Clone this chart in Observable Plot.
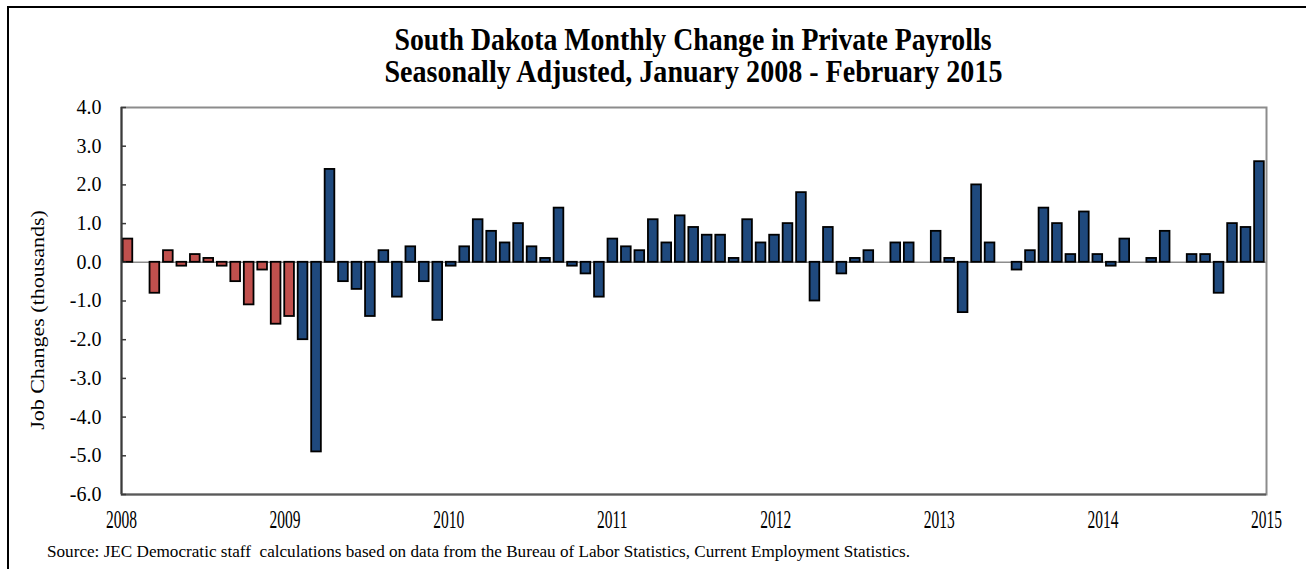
<!DOCTYPE html>
<html>
<head>
<meta charset="utf-8">
<script src="https://cdn.jsdelivr.net/npm/d3@7"></script>
<script src="https://cdn.jsdelivr.net/npm/@observablehq/plot@0.6"></script>
<style>
  html, body { margin: 0; padding: 0; background: #fff; }
  #page { position: relative; width: 1306px; height: 569px; overflow: hidden; font-family: "Liberation Serif", serif; color: #000; }
  #border { position: absolute; left: 7px; top: 6px; width: 1400px; height: 700px; border: 2px solid #000; box-sizing: border-box; }
  #title { position: absolute; left: 0; top: 24px; width: 1386px; text-align: center; font-weight: bold; font-size: 31px; line-height: 32px; }
  #title span { display: inline-block; white-space: pre; transform-origin: center center; }
  #chart { position: absolute; left: 0; top: 98px; }
  #source { position: absolute; left: 47px; top: 542px; font-size: 17px; line-height: 20px; white-space: pre; transform-origin: left center; display: inline-block; }
</style>
</head>
<body>
<div id="page">
  <div id="border"></div>
  <div id="title"><div><span id="t1"></span></div><div><span id="t2"></span></div></div>
  <div id="chart"></div>
  <span id="source"></span>
</div>
<script>
// ---- data ----
const titleLine1 = "South Dakota Monthly Change in Private Payrolls";
const titleLine2 = "Seasonally Adjusted, January 2008 - February 2015";
const yAxisLabel = "Job Changes (thousands)";
const sourceText = "Source: JEC Democratic staff  calculations based on data from the Bureau of Labor Statistics, Current Employment Statistics.";

// monthly change in private payrolls (thousands), starting January 2008
const values = [
  0.6, 0.0, -0.8, 0.3, -0.1, 0.2, 0.1, -0.1, -0.5, -1.1, -0.2, -1.6,
  -1.4, -2.0, -4.9, 2.4, -0.5, -0.7, -1.4, 0.3, -0.9, 0.4, -0.5, -1.5,
  -0.1, 0.4, 1.1, 0.8, 0.5, 1.0, 0.4, 0.1, 1.4, -0.1, -0.3, -0.9,
  0.6, 0.4, 0.3, 1.1, 0.5, 1.2, 0.9, 0.7, 0.7, 0.1, 1.1, 0.5,
  0.7, 1.0, 1.8, -1.0, 0.9, -0.3, 0.1, 0.3, 0.0, 0.5, 0.5, 0.0,
  0.8, 0.1, -1.3, 2.0, 0.5, 0.0, -0.2, 0.3, 1.4, 1.0, 0.2, 1.3,
  0.2, -0.1, 0.6, 0.0, 0.1, 0.8, 0.0, 0.2, 0.2, -0.8, 1.0, 0.9,
  2.6
];
const yearLabels = ["2008", "2009", "2010", "2011", "2012", "2013", "2014", "2015"];
const yTicks = [4, 3, 2, 1, 0, -1, -2, -3, -4, -5, -6];
const periods = ["Through January 2009", "From February 2009"];
const periodColors = ["#C0504D", "#1F497D"];

// ---- build table ----
const startMonth = new Date(Date.UTC(2008, 0, 1));
const firstBlueMonth = new Date(Date.UTC(2009, 1, 1));
const months = d3.utcMonth.range(startMonth, d3.utcMonth.offset(startMonth, values.length));
const data = values.map((v, i) => ({
  i, month: months[i], v,
  period: months[i] < firstBlueMonth ? periods[0] : periods[1]
}));
const yearTicks = yearLabels.map((_, k) => k * values.length / (yearLabels.length - 1));

const chart = Plot.plot({
  width: 1306,
  height: 442,
  marginLeft: 121,
  marginRight: 40,
  marginTop: 9,
  marginBottom: 46,
  x: { domain: [0, values.length], axis: null },
  y: { domain: [-6, 4], axis: null },
  color: { domain: periods, range: periodColors },
  style: { fontFamily: "Liberation Serif, serif", fontSize: "18px", color: "#000", background: "transparent", overflow: "visible" },
  marks: [
    Plot.frame({ stroke: "#8c8c8c", strokeWidth: 2 }),
    Plot.ruleY([0], { stroke: "#8c8c8c", strokeWidth: 1.5 }),
    Plot.rect(data.filter(d => d.v !== 0), {
      x1: "i", x2: d => d.i + 1, y1: 0, y2: "v",
      fill: "period", stroke: "#000", strokeWidth: 1.8,
      insetLeft: 1.6, insetRight: 2.2
    }),
    Plot.ruleX([0], { stroke: "#3a3a3a", strokeWidth: 2 }),
    Plot.ruleY([-6], { stroke: "#595959", strokeWidth: 2 }),
    Plot.axisY(yTicks, { tickSize: 5, dx: 5, tickFormat: () => "", stroke: "#3a3a3a", strokeWidth: 1.5, label: null }),
    Plot.axisY(yTicks, { tickSize: 0, tickPadding: 20, tickFormat: d => d.toFixed(1), fontSize: 20, fill: "#000", label: null }),
    Plot.axisX(yearTicks, {
      tickSize: 0, tickPadding: 16, fontSize: 25, fill: "#000", label: null,
      tickFormat: d => yearLabels[Math.round(d * (yearLabels.length - 1) / values.length)]
    }),
    Plot.text([yAxisLabel], { text: d => d, frameAnchor: "left", textAnchor: "middle", rotate: -90, dx: -84, dy: 19, fontSize: 22, fill: "#000" })
  ]
});
document.getElementById("chart").appendChild(chart);

// condense the year labels horizontally like the original
d3.select(chart).selectAll('g[aria-label="x-axis tick label"] text').each(function () {
  const x = +(this.getAttribute("x") || 0);
  const t = this.getAttribute("transform") || "";
  this.setAttribute("transform", `${t} translate(${x},0) scale(0.62,1) translate(${-x},0)`);
});
// the rotated axis title is slightly condensed across its glyph height
d3.select(chart).selectAll('g[aria-label="text"] text').each(function () {
  const t = this.getAttribute("transform") || "";
  this.setAttribute("transform", `${t} scale(1,0.9)`);
});

// titles and source
const t1 = document.getElementById("t1");
const t2 = document.getElementById("t2");
const src = document.getElementById("source");
t1.textContent = titleLine1;
t2.textContent = titleLine2;
src.textContent = sourceText;
function fitWidth(el, target) {
  const w = el.getBoundingClientRect().width;
  if (w > 0) el.style.transform = `scaleX(${target / w})`;
}
fitWidth(t1, 597);
fitWidth(t2, 618);
fitWidth(src, 863);
</script>
</body>
</html>
